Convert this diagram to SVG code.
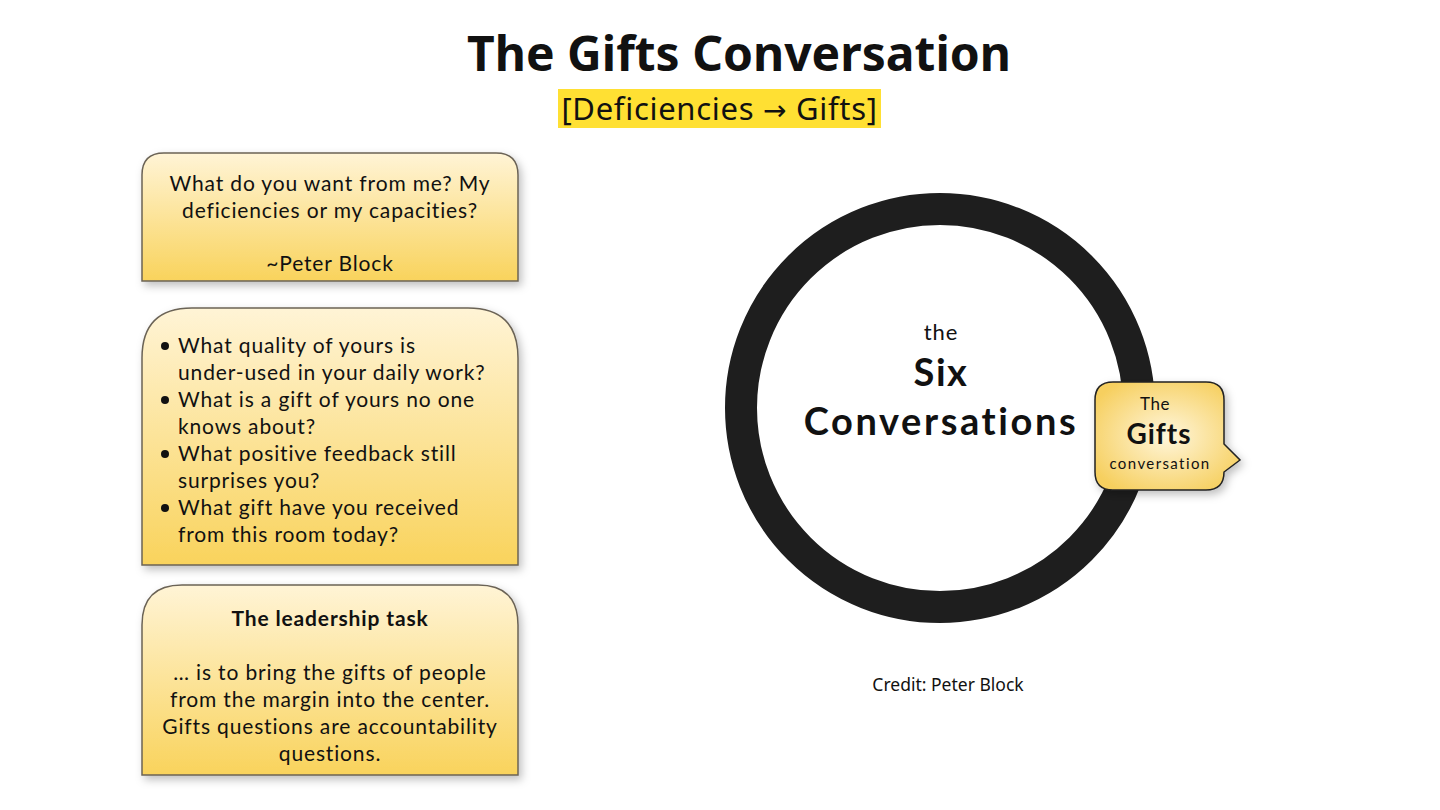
<svg xmlns="http://www.w3.org/2000/svg" width="1440" height="810" viewBox="0 0 1440 810">
<defs>
<linearGradient id="boxg" x1="0" y1="0" x2="0" y2="1">
<stop offset="0" stop-color="#FFF4D6"/>
<stop offset="1" stop-color="#F9D35C"/>
</linearGradient>
<radialGradient id="callg" cx="0.5" cy="0.5" r="0.6">
<stop offset="0" stop-color="#FFF6DC"/>
<stop offset="1" stop-color="#F6CF5E"/>
</radialGradient>
<filter id="sh" x="-10%" y="-10%" width="125%" height="130%">
<feDropShadow dx="3" dy="4" stdDeviation="4" flood-color="#000" flood-opacity="0.25"/>
</filter>
<style>
.box{fill:url(#boxg);stroke:#6b6356;stroke-width:1.5;filter:url(#sh)}
.t{font-family:Lato,"Noto Sans",sans-serif;fill:#111;font-size:21px;letter-spacing:0.85px}
.c{text-anchor:middle}
.b{font-weight:bold}
</style>
</defs>
<rect width="1440" height="810" fill="#fff"/>
<g id="title">
<text x="739" y="71" class="c b" font-family="'Noto Sans',sans-serif" font-size="48" fill="#111">The Gifts Conversation</text>
</g>
<g id="subtitle">
<rect x="558" y="89" width="323" height="39" fill="#FFE033"/>
<text x="719.5" y="120" class="c" font-family="'Noto Sans',sans-serif" font-size="31" letter-spacing="0.7" fill="#111">[Deficiencies <tspan font-family="'DejaVu Sans',sans-serif" font-size="28">→</tspan> Gifts]</text>
</g>
<g id="quote">
<path class="box" d="M142,281 V175 Q142,153 164,153 H496 Q518,153 518,175 V281 Z"/>
<text class="t c" x="330" y="191">What do you want from me? My</text>
<text class="t c" x="330" y="218">deficiencies or my capacities?</text>
<text class="t c" x="330" y="271">~Peter Block</text>
</g>
<g id="questions">
<path class="box" d="M142,565 V358 Q142,308 192,308 H468 Q518,308 518,358 V565 Z"/>
<g class="t">
<circle cx="165" cy="346" r="4" fill="#111"/>
<text x="178" y="353">What quality of yours is</text>
<text x="178" y="380">under-used in your daily work?</text>
<circle cx="165" cy="400" r="4" fill="#111"/>
<text x="178" y="407">What is a gift of yours no one</text>
<text x="178" y="434">knows about?</text>
<circle cx="165" cy="454" r="4" fill="#111"/>
<text x="178" y="461">What positive feedback still</text>
<text x="178" y="488">surprises you?</text>
<circle cx="165" cy="508" r="4" fill="#111"/>
<text x="178" y="515">What gift have you received</text>
<text x="178" y="542">from this room today?</text>
</g>
</g>
<g id="leadership">
<path class="box" d="M142,775 V625 Q142,585 182,585 H478 Q518,585 518,625 V775 Z"/>
<text class="t c b" x="330" y="626">The leadership task</text>
<text class="t c" x="330" y="680">… is to bring the gifts of people</text>
<text class="t c" x="330" y="707">from the margin into the center.</text>
<text class="t c" x="330" y="734">Gifts questions are accountability</text>
<text class="t c" x="330" y="761">questions.</text>
</g>
<g id="six">
<circle cx="940" cy="408" r="199" fill="none" stroke="#1e1e1e" stroke-width="32"/>
<text class="t c" x="941" y="340" style="font-size:22px">the</text>
<text class="t c b" x="941" y="386" style="font-size:38px;letter-spacing:1.5px">Six</text>
<text class="t c b" x="941" y="435" style="font-size:38px;letter-spacing:2.6px">Conversations</text>
</g>
<g id="gifts">
<path d="M1113,382 H1206 Q1224,382 1224,400 V444 L1240,460 L1224,472 V472 Q1224,490 1206,490 H1113 Q1095,490 1095,472 V400 Q1095,382 1113,382 Z" fill="url(#callg)" stroke="#222" stroke-width="1.5" filter="url(#sh)"/>
<text class="t c" x="1155" y="410" style="font-size:17px;letter-spacing:0.5px">The</text>
<text class="t c b" x="1159" y="444" style="font-size:28px;letter-spacing:1px">Gifts</text>
<text class="t c" x="1160" y="469" style="font-size:15px;letter-spacing:1.4px">conversation</text>
</g>
<g id="credit">
<text x="948" y="691" class="c" font-family="'Noto Sans',sans-serif" font-size="17.5" fill="#111">Credit: Peter Block</text>
</g>
<g id="connectors"/>
</svg>
